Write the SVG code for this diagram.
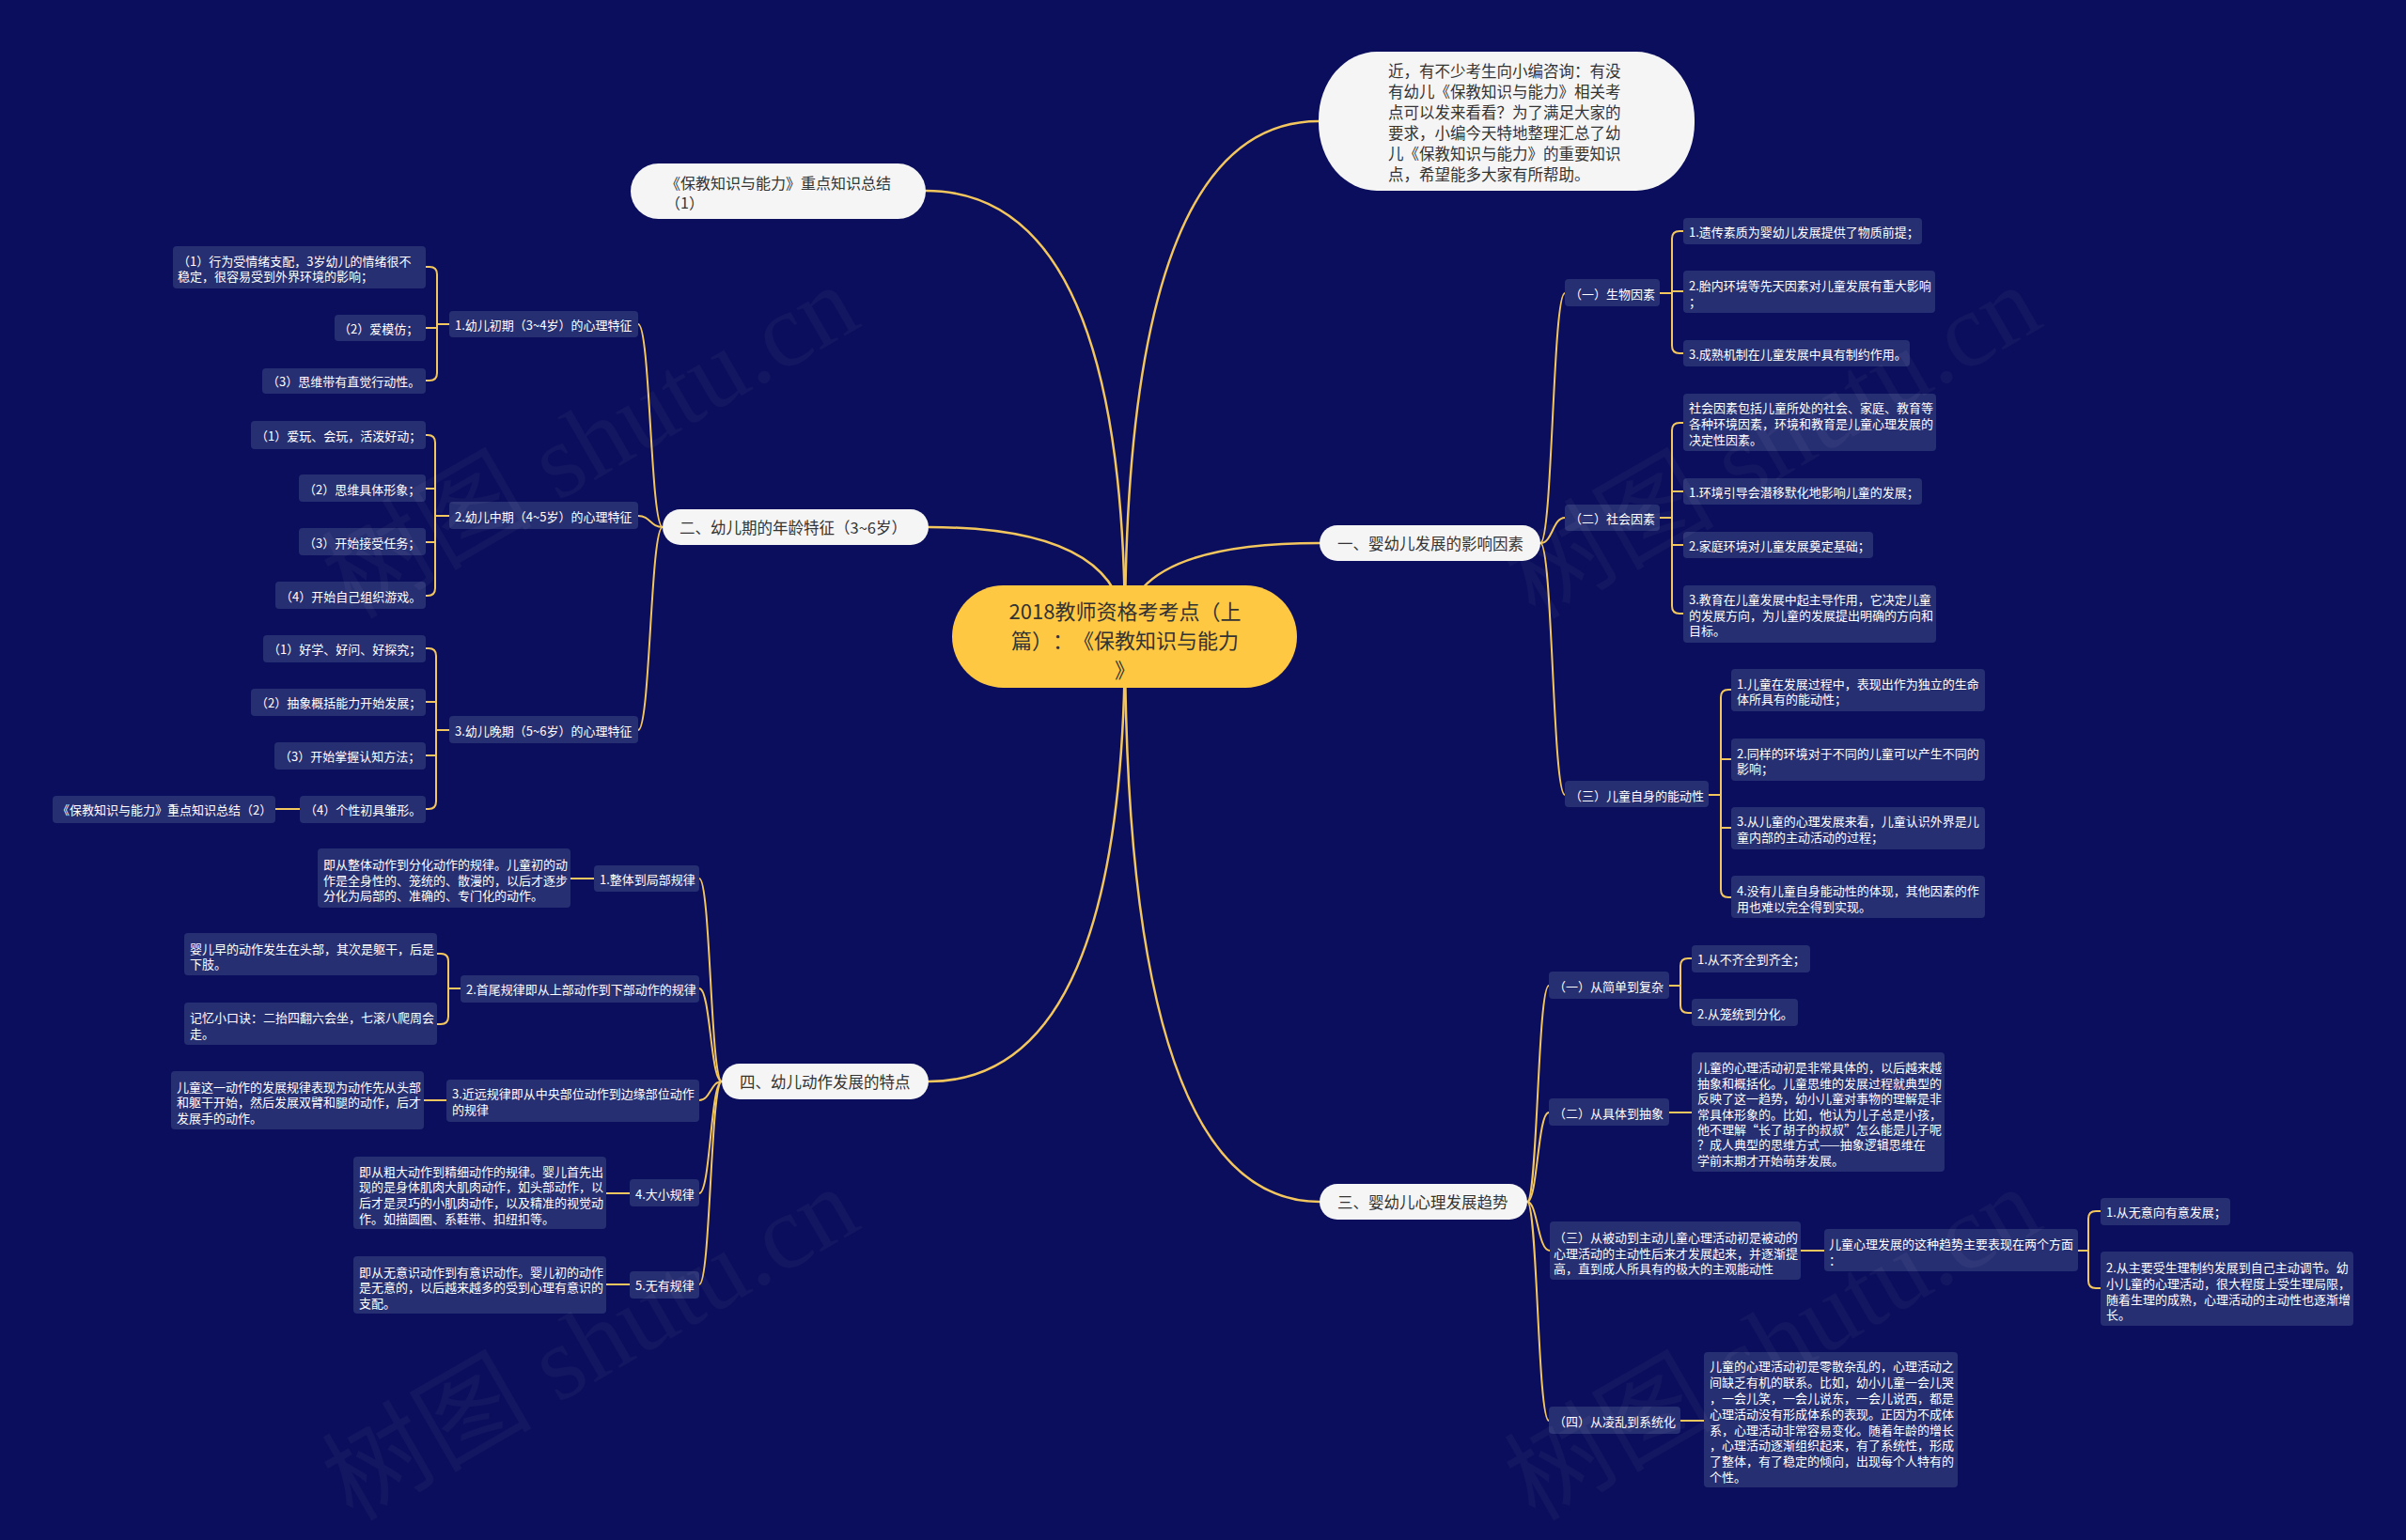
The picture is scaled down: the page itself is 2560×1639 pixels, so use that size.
<svg xmlns="http://www.w3.org/2000/svg" width="2560" height="1639" viewBox="0 0 2560 1639">
<style>
text{text-spacing-trim:space-all}
.t{font-family:"Noto Sans CJK SC","Noto Sans",sans-serif;font-size:13px;fill:#ffffff;dominant-baseline:central}
.tw{font-family:"Noto Sans CJK SC","Noto Sans",sans-serif;font-size:16.5px;fill:#333333;dominant-baseline:central}
.tr{font-family:"Noto Sans CJK SC","Noto Sans",sans-serif;font-size:22px;fill:#333333;text-anchor:middle;dominant-baseline:central}
.b{fill:#272f73}
.p{fill:#f5f5f5}
.root{fill:#fec843}
.c{fill:none;stroke:#f3c65e;stroke-width:2;stroke-linecap:round}
.c0{stroke-width:2.5}
.wm{font-family:"Liberation Serif","Noto Sans CJK SC",serif;font-size:112px;fill:#ffffff;fill-opacity:0.04}
</style>
<rect x="0" y="0" width="2560" height="1639" fill="#0a0e5c"/>

<g id="connectors">
  <path class="c c0" d="M1197,676 Q1197,203 985,203"/>
  <path class="c c0" d="M1197,676 Q1197,561 988,561"/>
  <path class="c c0" d="M1197,676 Q1197,1151 988,1151"/>
  <path class="c c0" d="M1197,676 Q1197,129 1403,129"/>
  <path class="c c0" d="M1197,676 Q1197,578 1404,578"/>
  <path class="c c0" d="M1197,676 Q1197,1279 1404,1279"/>

  <path class="c" d="M705,561 C692,561 692,345 679,345"/>
  <path class="c" d="M705,561 C692,561 692,549 679,549"/>
  <path class="c" d="M705,561 C692,561 692,777 679,777"/>

  <path class="c" d="M768,1151 C756,1151 756,935 744,935"/>
  <path class="c" d="M768,1151 C756,1151 756,1052 744,1052"/>
  <path class="c" d="M768,1151 C756,1151 756,1171 744,1171"/>
  <path class="c" d="M768,1151 C756,1151 756,1270 744,1270"/>
  <path class="c" d="M768,1151 C756,1151 756,1367 744,1367"/>

  <path class="c" d="M1639,578 C1652,578 1652,312 1665,312"/>
  <path class="c" d="M1639,578 C1652,578 1652,551 1665,551"/>
  <path class="c" d="M1639,578 C1652,578 1652,846 1665,846"/>

  <path class="c" d="M1625,1279 C1636,1279 1636,1049 1648,1049"/>
  <path class="c" d="M1625,1279 C1636,1279 1636,1184 1648,1184"/>
  <path class="c" d="M1625,1279 C1636,1279 1636,1331 1649,1331"/>
  <path class="c" d="M1625,1279 C1636,1279 1636,1512 1648,1512"/>

  <path class="c" d="M453,284 H457 Q465,284 465,292 V397 Q465,405 457,405 H453 M465,349 H453 M465,345 H478"/>
  <path class="c" d="M453,463 H455 Q463,463 463,471 V626 Q463,634 455,634 H453 M463,520 H453 M463,577 H453 M463,549 H478"/>
  <path class="c" d="M453,690 H456 Q464,690 464,698 V853 Q464,861 456,861 H453 M464,747 H453 M464,804 H453 M464,777 H478"/>
  <path class="c" d="M293,861 H319"/>
  <path class="c" d="M607,935 H632"/>
  <path class="c" d="M465,1015 H469 Q477,1015 477,1023 V1082 Q477,1090 469,1090 H465 M477,1052 H490"/>
  <path class="c" d="M451,1171 H475"/>
  <path class="c" d="M645,1270 H670"/>
  <path class="c" d="M645,1367 H670"/>

  <path class="c" d="M1791,246 H1787 Q1779,246 1779,254 V368 Q1779,376 1787,376 H1791 M1779,310 H1791 M1766,312 H1779"/>
  <path class="c" d="M1791,450 H1787 Q1779,450 1779,458 V645 Q1779,653 1787,653 H1791 M1779,523 H1791 M1779,580 H1791 M1766,551 H1779"/>
  <path class="c" d="M1842,734 H1839 Q1831,734 1831,742 V947 Q1831,955 1839,955 H1842 M1831,808 H1842 M1831,881 H1842 M1818,846 H1831"/>
  <path class="c" d="M1800,1020 H1796 Q1788,1020 1788,1028 V1070 Q1788,1078 1796,1078 H1800 M1776,1049 H1788"/>
  <path class="c" d="M1776,1184 H1800"/>
  <path class="c" d="M1916,1331 H1941"/>
  <path class="c" d="M2235,1289 H2230 Q2222,1289 2222,1297 V1363 Q2222,1371 2230,1371 H2235 M2211,1331 H2222"/>
  <path class="c" d="M1788,1512 H1813"/>
</g>

<g id="root">
  <rect class="root" x="1013" y="623" width="367" height="109" rx="54.5"/>
  <text class="tr"><tspan x="1197" y="649">2018教师资格考考点（上</tspan><tspan x="1197" y="680">篇）：《保教知识与能力</tspan><tspan x="1197" y="711">》</tspan></text>
</g>

<g id="intro">
  <rect class="p" x="1403" y="55" width="400" height="148" rx="62" ry="72"/>
  <text class="tw"><tspan x="1477" y="75">近，有不少考生向小编咨询：有没</tspan><tspan x="1477" y="97">有幼儿《保教知识与能力》相关考</tspan><tspan x="1477" y="119">点可以发来看看？为了满足大家的</tspan><tspan x="1477" y="141">要求，小编今天特地整理汇总了幼</tspan><tspan x="1477" y="163">儿《保教知识与能力》的重要知识</tspan><tspan x="1477" y="185">点，希望能多大家有所帮助。</tspan></text>
</g>

<g id="summary1">
  <rect class="p" x="671" y="174" width="314" height="59" rx="29.5"/>
  <text class="tw" style="font-size:16px"><tspan x="708" y="194">《保教知识与能力》重点知识总结</tspan><tspan x="708" y="215">（1）</tspan></text>
</g>

<g id="sec2">
  <rect class="p" x="705" y="542" width="283" height="38" rx="19"/>
  <text class="tw" x="723" y="561">二、幼儿期的年龄特征（3~6岁）</text>
</g>
<g id="sec2-1">
  <rect class="b" x="478" y="331" width="201" height="28" rx="4"/>
  <text class="t" x="484" y="345">1.幼儿初期（3~4岁）的心理特征</text>
</g>
<g id="sec2-1-1">
  <rect class="b" x="184" y="262" width="269" height="45" rx="4"/>
  <text class="t"><tspan x="189" y="277">（1）行为受情绪支配，3岁幼儿的情绪很不</tspan><tspan x="189" y="293">稳定，很容易受到外界环境的影响；</tspan></text>
</g>
<g id="sec2-1-2">
  <rect class="b" x="356" y="335" width="97" height="28" rx="4"/>
  <text class="t" x="360" y="349">（2）爱模仿；</text>
</g>
<g id="sec2-1-3">
  <rect class="b" x="279" y="392" width="174" height="27" rx="4"/>
  <text class="t" x="284" y="405">（3）思维带有直觉行动性。</text>
</g>

<g id="sec2-2">
  <rect class="b" x="478" y="534" width="201" height="29" rx="4"/>
  <text class="t" x="484" y="549">2.幼儿中期（4~5岁）的心理特征</text>
</g>
<g id="sec2-2-1">
  <rect class="b" x="267" y="448" width="186" height="30" rx="4"/>
  <text class="t" x="272" y="463">（1）爱玩、会玩，活泼好动；</text>
</g>
<g id="sec2-2-2">
  <rect class="b" x="318" y="505" width="135" height="29" rx="4"/>
  <text class="t" x="323" y="520">（2）思维具体形象；</text>
</g>
<g id="sec2-2-3">
  <rect class="b" x="318" y="562" width="135" height="29" rx="4"/>
  <text class="t" x="323" y="577">（3）开始接受任务；</text>
</g>
<g id="sec2-2-4">
  <rect class="b" x="293" y="619" width="160" height="29" rx="4"/>
  <text class="t" x="298" y="634">（4）开始自己组织游戏。</text>
</g>

<g id="sec2-3">
  <rect class="b" x="478" y="762" width="201" height="29" rx="4"/>
  <text class="t" x="484" y="777">3.幼儿晚期（5~6岁）的心理特征</text>
</g>
<g id="sec2-3-1">
  <rect class="b" x="280" y="676" width="173" height="29" rx="4"/>
  <text class="t" x="285" y="690">（1）好学、好问、好探究；</text>
</g>
<g id="sec2-3-2">
  <rect class="b" x="267" y="733" width="186" height="29" rx="4"/>
  <text class="t" x="272" y="747">（2）抽象概括能力开始发展；</text>
</g>
<g id="sec2-3-3">
  <rect class="b" x="292" y="790" width="161" height="29" rx="4"/>
  <text class="t" x="297" y="804">（3）开始掌握认知方法；</text>
</g>
<g id="sec2-3-4">
  <rect class="b" x="319" y="847" width="134" height="29" rx="4"/>
  <text class="t" x="324" y="861">（4）个性初具雏形。</text>
</g>
<g id="summary2">
  <rect class="b" x="56" y="847" width="237" height="29" rx="4"/>
  <text class="t" x="61" y="861">《保教知识与能力》重点知识总结（2）</text>
</g>

<g id="sec4">
  <rect class="p" x="768" y="1132" width="220" height="38" rx="19"/>
  <text class="tw" x="787" y="1151">四、幼儿动作发展的特点</text>
</g>
<g id="sec4-1">
  <rect class="b" x="632" y="921" width="112" height="28" rx="4"/>
  <text class="t" x="638" y="935">1.整体到局部规律</text>
</g>
<g id="sec4-1-1">
  <rect class="b" x="338" y="903" width="269" height="63" rx="4"/>
  <text class="t"><tspan x="344" y="919">即从整体动作到分化动作的规律。儿童初的动</tspan><tspan x="344" y="936">作是全身性的、笼统的、散漫的，以后才逐步</tspan><tspan x="344" y="952">分化为局部的、准确的、专门化的动作。</tspan></text>
</g>
<g id="sec4-2">
  <rect class="b" x="490" y="1038" width="254" height="29" rx="4"/>
  <text class="t" x="496" y="1052">2.首尾规律即从上部动作到下部动作的规律</text>
</g>
<g id="sec4-2-1">
  <rect class="b" x="196" y="993" width="269" height="45" rx="4"/>
  <text class="t"><tspan x="202" y="1009">婴儿早的动作发生在头部，其次是躯干，后是</tspan><tspan x="202" y="1025">下肢。</tspan></text>
</g>
<g id="sec4-2-2">
  <rect class="b" x="196" y="1067" width="269" height="45" rx="4"/>
  <text class="t"><tspan x="202" y="1082">记忆小口诀：二抬四翻六会坐，七滚八爬周会</tspan><tspan x="202" y="1099">走。</tspan></text>
</g>
<g id="sec4-3">
  <rect class="b" x="475" y="1149" width="269" height="45" rx="4"/>
  <text class="t"><tspan x="481" y="1163">3.近远规律即从中央部位动作到边缘部位动作</tspan><tspan x="481" y="1180">的规律</tspan></text>
</g>
<g id="sec4-3-1">
  <rect class="b" x="182" y="1140" width="269" height="62" rx="4"/>
  <text class="t"><tspan x="188" y="1156">儿童这一动作的发展规律表现为动作先从头部</tspan><tspan x="188" y="1172">和躯干开始，然后发展双臂和腿的动作，后才</tspan><tspan x="188" y="1189">发展手的动作。</tspan></text>
</g>
<g id="sec4-4">
  <rect class="b" x="670" y="1255" width="74" height="29" rx="4"/>
  <text class="t" x="676" y="1270">4.大小规律</text>
</g>
<g id="sec4-4-1">
  <rect class="b" x="376" y="1231" width="269" height="77" rx="4"/>
  <text class="t"><tspan x="382" y="1246">即从粗大动作到精细动作的规律。婴儿首先出</tspan><tspan x="382" y="1262">现的是身体肌肉大肌肉动作，如头部动作，以</tspan><tspan x="382" y="1279">后才是灵巧的小肌肉动作，以及精准的视觉动</tspan><tspan x="382" y="1296">作。如描圆圈、系鞋带、扣纽扣等。</tspan></text>
</g>
<g id="sec4-5">
  <rect class="b" x="670" y="1353" width="74" height="29" rx="4"/>
  <text class="t" x="676" y="1367">5.无有规律</text>
</g>
<g id="sec4-5-1">
  <rect class="b" x="376" y="1337" width="269" height="61" rx="4"/>
  <text class="t"><tspan x="382" y="1353">即从无意识动作到有意识动作。婴儿初的动作</tspan><tspan x="382" y="1369">是无意的，以后越来越多的受到心理有意识的</tspan><tspan x="382" y="1386">支配。</tspan></text>
</g>

<g id="sec1">
  <rect class="p" x="1404" y="559" width="235" height="38" rx="19"/>
  <text class="tw" x="1423" y="578">一、婴幼儿发展的影响因素</text>
</g>
<g id="sec1-1">
  <rect class="b" x="1665" y="297" width="101" height="29" rx="4"/>
  <text class="t" x="1670" y="312">（一）生物因素</text>
</g>
<g id="sec1-1-1">
  <rect class="b" x="1791" y="232" width="254" height="28" rx="4"/>
  <text class="t" x="1797" y="246">1.遗传素质为婴幼儿发展提供了物质前提；</text>
</g>
<g id="sec1-1-2">
  <rect class="b" x="1791" y="288" width="268" height="45" rx="4"/>
  <text class="t"><tspan x="1797" y="303">2.胎内环境等先天因素对儿童发展有重大影响</tspan><tspan x="1797" y="320">；</tspan></text>
</g>
<g id="sec1-1-3">
  <rect class="b" x="1791" y="362" width="241" height="28" rx="4"/>
  <text class="t" x="1797" y="376">3.成熟机制在儿童发展中具有制约作用。</text>
</g>
<g id="sec1-2">
  <rect class="b" x="1665" y="537" width="101" height="28" rx="4"/>
  <text class="t" x="1670" y="551">（二）社会因素</text>
</g>
<g id="sec1-2-1">
  <rect class="b" x="1791" y="419" width="269" height="61" rx="4"/>
  <text class="t"><tspan x="1797" y="433">社会因素包括儿童所处的社会、家庭、教育等</tspan><tspan x="1797" y="450">各种环境因素，环境和教育是儿童心理发展的</tspan><tspan x="1797" y="467">决定性因素。</tspan></text>
</g>
<g id="sec1-2-2">
  <rect class="b" x="1791" y="509" width="254" height="28" rx="4"/>
  <text class="t" x="1797" y="523">1.环境引导会潜移默化地影响儿童的发展；</text>
</g>
<g id="sec1-2-3">
  <rect class="b" x="1791" y="566" width="202" height="28" rx="4"/>
  <text class="t" x="1797" y="580">2.家庭环境对儿童发展奠定基础；</text>
</g>
<g id="sec1-2-4">
  <rect class="b" x="1791" y="623" width="269" height="61" rx="4"/>
  <text class="t"><tspan x="1797" y="637">3.教育在儿童发展中起主导作用，它决定儿童</tspan><tspan x="1797" y="654">的发展方向，为儿童的发展提出明确的方向和</tspan><tspan x="1797" y="670">目标。</tspan></text>
</g>
<g id="sec1-3">
  <rect class="b" x="1665" y="831" width="153" height="28" rx="4"/>
  <text class="t" x="1670" y="846">（三）儿童自身的能动性</text>
</g>
<g id="sec1-3-1">
  <rect class="b" x="1842" y="712" width="270" height="45" rx="4"/>
  <text class="t"><tspan x="1848" y="727">1.儿童在发展过程中，表现出作为独立的生命</tspan><tspan x="1848" y="743">体所具有的能动性；</tspan></text>
</g>
<g id="sec1-3-2">
  <rect class="b" x="1842" y="786" width="270" height="45" rx="4"/>
  <text class="t"><tspan x="1848" y="801">2.同样的环境对于不同的儿童可以产生不同的</tspan><tspan x="1848" y="817">影响；</tspan></text>
</g>
<g id="sec1-3-3">
  <rect class="b" x="1842" y="859" width="270" height="45" rx="4"/>
  <text class="t"><tspan x="1848" y="873">3.从儿童的心理发展来看，儿童认识外界是儿</tspan><tspan x="1848" y="890">童内部的主动活动的过程；</tspan></text>
</g>
<g id="sec1-3-4">
  <rect class="b" x="1842" y="932" width="270" height="45" rx="4"/>
  <text class="t"><tspan x="1848" y="947">4.没有儿童自身能动性的体现，其他因素的作</tspan><tspan x="1848" y="964">用也难以完全得到实现。</tspan></text>
</g>

<g id="sec3">
  <rect class="p" x="1404" y="1260" width="221" height="38" rx="19"/>
  <text class="tw" x="1423" y="1279">三、婴幼儿心理发展趋势</text>
</g>
<g id="sec3-1">
  <rect class="b" x="1648" y="1034" width="128" height="29" rx="4"/>
  <text class="t" x="1653" y="1049">（一）从简单到复杂</text>
</g>
<g id="sec3-1-1">
  <rect class="b" x="1800" y="1006" width="126" height="29" rx="4"/>
  <text class="t" x="1806" y="1020">1.从不齐全到齐全；</text>
</g>
<g id="sec3-1-2">
  <rect class="b" x="1800" y="1063" width="113" height="29" rx="4"/>
  <text class="t" x="1806" y="1078">2.从笼统到分化。</text>
</g>
<g id="sec3-2">
  <rect class="b" x="1648" y="1169" width="128" height="29" rx="4"/>
  <text class="t" x="1653" y="1184">（二）从具体到抽象</text>
</g>
<g id="sec3-2-1">
  <rect class="b" x="1800" y="1120" width="269" height="127" rx="4"/>
  <text class="t"><tspan x="1806" y="1135">儿童的心理活动初是非常具体的，以后越来越</tspan><tspan x="1806" y="1152">抽象和概括化。儿童思维的发展过程就典型的</tspan><tspan x="1806" y="1168">反映了这一趋势，幼小儿童对事物的理解是非</tspan><tspan x="1806" y="1185">常具体形象的。比如，他认为儿子总是小孩，</tspan><tspan x="1806" y="1201">他不理解“长了胡子的叔叔”怎么能是儿子呢</tspan><tspan x="1806" y="1217">？成人典型的思维方式——抽象逻辑思维在</tspan><tspan x="1806" y="1234">学前末期才开始萌芽发展。</tspan></text>
</g>
<g id="sec3-3">
  <rect class="b" x="1649" y="1300" width="267" height="62" rx="4"/>
  <text class="t"><tspan x="1653" y="1316">（三）从被动到主动儿童心理活动初是被动的</tspan><tspan x="1653" y="1333">心理活动的主动性后来才发展起来，并逐渐提</tspan><tspan x="1653" y="1349">高，直到成人所具有的极大的主观能动性</tspan></text>
</g>
<g id="sec3-3-1">
  <rect class="b" x="1941" y="1308" width="270" height="45" rx="4"/>
  <text class="t"><tspan x="1946" y="1323">儿童心理发展的这种趋势主要表现在两个方面</tspan><tspan x="1946" y="1340">：</tspan></text>
</g>
<g id="sec3-3-1-1">
  <rect class="b" x="2235" y="1275" width="138" height="29" rx="4"/>
  <text class="t" x="2241" y="1289">1.从无意向有意发展；</text>
</g>
<g id="sec3-3-1-2">
  <rect class="b" x="2235" y="1332" width="269" height="79" rx="4"/>
  <text class="t"><tspan x="2241" y="1348">2.从主要受生理制约发展到自己主动调节。幼</tspan><tspan x="2241" y="1365">小儿童的心理活动，很大程度上受生理局限，</tspan><tspan x="2241" y="1382">随着生理的成熟，心理活动的主动性也逐渐增</tspan><tspan x="2241" y="1398">长。</tspan></text>
</g>
<g id="sec3-4">
  <rect class="b" x="1648" y="1497" width="140" height="29" rx="4"/>
  <text class="t" x="1653" y="1512">（四）从凌乱到系统化</text>
</g>
<g id="sec3-4-1">
  <rect class="b" x="1813" y="1439" width="270" height="144" rx="4"/>
  <text class="t"><tspan x="1819" y="1453">儿童的心理活动初是零散杂乱的，心理活动之</tspan><tspan x="1819" y="1470">间缺乏有机的联系。比如，幼小儿童一会儿哭</tspan><tspan x="1819" y="1487">，一会儿笑，一会儿说东，一会儿说西，都是</tspan><tspan x="1819" y="1504">心理活动没有形成体系的表现。正因为不成体</tspan><tspan x="1819" y="1521">系，心理活动非常容易变化。随着年龄的增长</tspan><tspan x="1819" y="1537">，心理活动逐渐组织起来，有了系统性，形成</tspan><tspan x="1819" y="1554">了整体，有了稳定的倾向，出现每个人特有的</tspan><tspan x="1819" y="1571">个性。</tspan></text>
</g>

<g id="watermark">
  <text class="wm" x="375" y="660" transform="rotate(-30 375 660)">树图 shutu.cn</text>
  <text class="wm" x="1633" y="660" transform="rotate(-30 1633 660)">树图 shutu.cn</text>
  <text class="wm" x="375" y="1620" transform="rotate(-30 375 1620)">树图 shutu.cn</text>
  <text class="wm" x="1633" y="1620" transform="rotate(-30 1633 1620)">树图 shutu.cn</text>
</g>
</svg>
